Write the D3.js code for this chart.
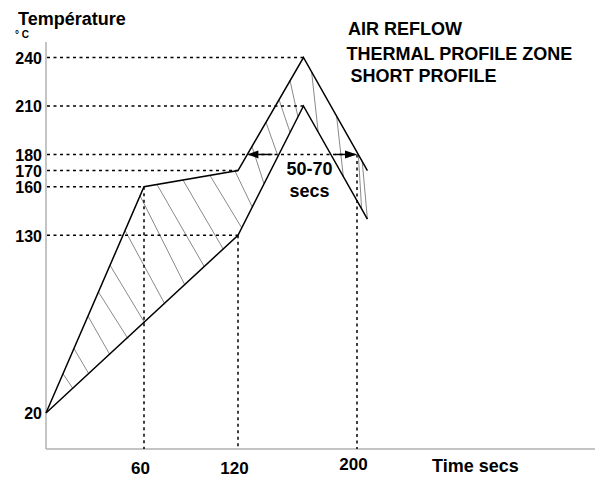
<!DOCTYPE html>
<html><head><meta charset="utf-8">
<script src="https://cdn.jsdelivr.net/npm/d3@7"></script>
<style>
body{margin:0;background:#fff;}
svg{display:block;}
text{font-family:"Liberation Sans",Arial,sans-serif;font-weight:bold;fill:#000;}
</style></head>
<body>
<svg id="chart" width="600" height="479"></svg>
<script>
// ---- data ----
const xTicks = [60, 120, 200];
const yTicks = [20, 130, 160, 170, 180, 210, 240];
const upperTime = [0, 60, 120, 164, 207];
const upperTemp = [20, 160, 170, 240, 170];
const lowerTime = [0, 120, 164, 207];
const lowerTemp = [20, 130, 210, 140];
// guides: horizontal dashed lines end at these times
const hGuideTemp = [240, 210, 180, 170, 160, 130];
const hGuideEnd  = [164, 164, 200, 120, 60, 120];
// vertical dashed lines start at these temperatures
const vGuideTime = [60, 120, 200];
const vGuideTemp = [160, 130, 180];
// hatching: start time on upper curve, end time on lower curve
const hatchUpperTime = [10.4, 17.1, 25.7, 32.1, 39.2, 48.4, 57.6, 68.3, 84.9, 102.1, 118.1,
                        129.4, 138.8, 147.6, 155, 169.5, 186.3, 200.9, 203.5];
const hatchLowerTime = [16.5, 26.3, 39.2, 50.2, 60.6, 73.4, 86.2, 98.6, 110.6, 122.5, 129.6,
                        137.5, 146.9, 155, 160.3, 173.9, 190.8, 203.1, 207];
const arrowTemp = 180;
const arrowRightTime = 200;
const windowLabel = ["50-70", "secs"];
const titleLines = ["AIR REFLOW", "THERMAL PROFILE ZONE", "SHORT PROFILE"];
const yTitle = "Température";
const yUnit = "° C";
const xTitle = "Time secs";

// ---- layout ----
const svg = d3.select("#chart");
const axisX0 = 46, axisYBottom = 449, axisYTop = 42, axisXEnd = 595;
const x = d3.scaleLinear().domain([0, 60, 120, 200]).range([46, 144, 238, 357]);
const y = d3.scaleLinear().domain([20, 240]).range([413, 57.5]);

function interp(ts, vs, t) {
  for (let i = 0; i < ts.length - 1; i++) {
    if (t >= ts[i] && t <= ts[i + 1]) {
      return vs[i] + (vs[i + 1] - vs[i]) * (t - ts[i]) / (ts[i + 1] - ts[i]);
    }
  }
  return vs[vs.length - 1];
}

// axes lines
svg.append("line").attr("x1", axisX0).attr("x2", axisX0).attr("y1", axisYTop).attr("y2", axisYBottom)
  .attr("stroke", "#b0b0b0").attr("stroke-width", 1.5);
svg.append("line").attr("x1", axisX0).attr("x2", axisXEnd).attr("y1", axisYBottom).attr("y2", axisYBottom)
  .attr("stroke", "#b0b0b0").attr("stroke-width", 1.5);

// hatching
const hatchG = svg.append("g");
hatchUpperTime.forEach((tu, i) => {
  const tl = hatchLowerTime[i];
  hatchG.append("line")
    .attr("x1", x(tu)).attr("y1", y(interp(upperTime, upperTemp, tu)))
    .attr("x2", x(tl)).attr("y2", y(interp(lowerTime, lowerTemp, tl)))
    .attr("stroke", "#8a8a8a").attr("stroke-width", 1);
});

// dashed guides
const dash = "3,3.5";
hGuideTemp.forEach((T, i) => {
  svg.append("line").attr("x1", axisX0 + 1).attr("x2", x(hGuideEnd[i]))
    .attr("y1", y(T)).attr("y2", y(T))
    .attr("stroke", "#000").attr("stroke-width", 1.5).attr("stroke-dasharray", dash);
});
vGuideTime.forEach((t, i) => {
  svg.append("line").attr("x1", x(t)).attr("x2", x(t))
    .attr("y1", y(vGuideTemp[i])).attr("y2", axisYBottom)
    .attr("stroke", "#000").attr("stroke-width", 1.5).attr("stroke-dasharray", dash);
});

// curves
const line = d3.line().x(d => x(d[0])).y(d => y(d[1]));
svg.append("path").datum(upperTime.map((t, i) => [t, upperTemp[i]]))
  .attr("d", line).attr("fill", "none").attr("stroke", "#000").attr("stroke-width", 1.5);
svg.append("path").datum(lowerTime.map((t, i) => [t, lowerTemp[i]]))
  .attr("d", line).attr("fill", "none").attr("stroke", "#000").attr("stroke-width", 1.5);

// arrows
let arrowLeftTime = 120;
for (let i = 0; i < upperTime.length - 1; i++) {
  const a = upperTemp[i], b = upperTemp[i + 1];
  if (a < arrowTemp && b >= arrowTemp) {
    arrowLeftTime = upperTime[i] + (arrowTemp - a) / (b - a) * (upperTime[i + 1] - upperTime[i]);
    break;
  }
}
const ay = y(arrowTemp);
const lx = x(arrowLeftTime), rx = x(arrowRightTime);
svg.append("line").attr("x1", lx + 8).attr("x2", lx + 25).attr("y1", ay).attr("y2", ay)
  .attr("stroke", "#000").attr("stroke-width", 1.5);
svg.append("path").attr("d", `M${lx},${ay} L${lx + 11},${ay - 4} L${lx + 11},${ay + 4} Z`).attr("fill", "#000");
svg.append("line").attr("x1", rx - 22).attr("x2", rx - 8).attr("y1", ay).attr("y2", ay)
  .attr("stroke", "#000").attr("stroke-width", 1.5);
svg.append("path").attr("d", `M${rx},${ay} L${rx - 12},${ay - 4} L${rx - 12},${ay + 4} Z`).attr("fill", "#000");

svg.append("text").attr("x", x(168)).attr("y", ay + 21).attr("text-anchor", "middle")
  .attr("font-size", 18).text(windowLabel[0]);
svg.append("text").attr("x", x(168)).attr("y", ay + 43).attr("text-anchor", "middle")
  .attr("font-size", 18).text(windowLabel[1]);

// y tick labels
const yAxis = d3.axisLeft(y).tickValues(yTicks).tickSize(0).tickPadding(0).tickFormat(d3.format("d"));
const gy = svg.append("g").attr("transform", `translate(${axisX0 - 4},0)`).call(yAxis);
gy.select(".domain").remove();
gy.selectAll("text").attr("font-size", 16).attr("font-family", "Liberation Sans, Arial, sans-serif")
  .attr("font-weight", "bold").attr("fill", "#000").attr("dy", "0.36em");

// x tick labels
const xAxis = d3.axisBottom(x).tickValues(xTicks).tickSize(0).tickPadding(0).tickFormat(d3.format("d"));
const gx = svg.append("g").attr("transform", `translate(-4,${axisYBottom})`).call(xAxis);
gx.select(".domain").remove();
gx.selectAll("text").attr("font-size", 17).attr("font-family", "Liberation Sans, Arial, sans-serif")
  .attr("font-weight", "bold").attr("fill", "#000")
  .attr("dy", null).attr("y", d => d === 200 ? 21 : 25);

// titles
svg.append("text").attr("x", 18).attr("y", 25).attr("font-size", 18).text(yTitle);
svg.append("text").attr("x", 15).attr("y", 38).attr("font-size", 10).text(yUnit);
svg.append("text").attr("x", 432).attr("y", 472).attr("font-size", 18).text(xTitle);
const tx = [348, 346.5, 350.5], ty = [35, 59.5, 82];
titleLines.forEach((s, i) => {
  svg.append("text").attr("x", tx[i]).attr("y", ty[i]).attr("font-size", 18).text(s);
});
</script>
</body></html>
